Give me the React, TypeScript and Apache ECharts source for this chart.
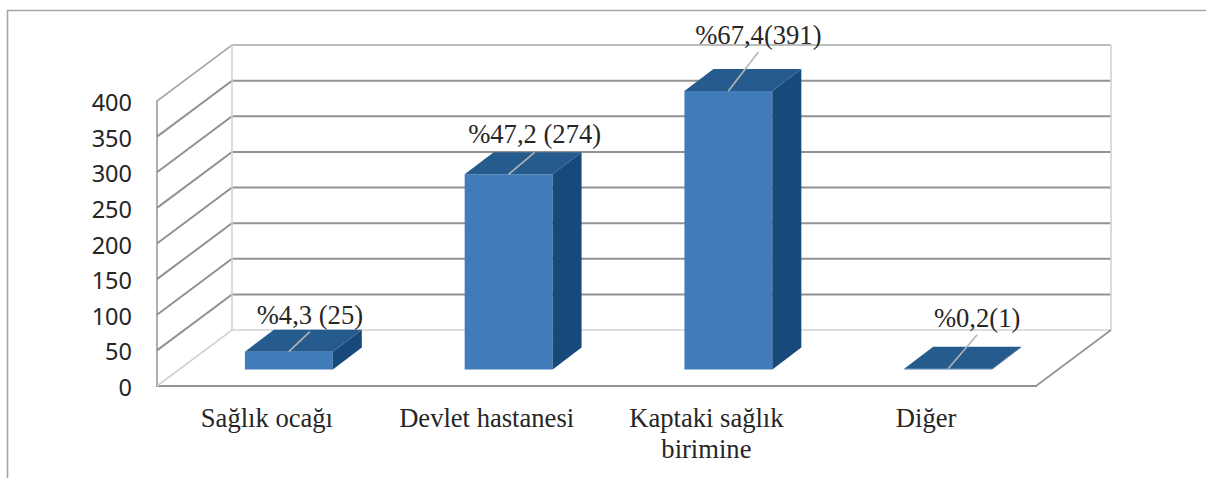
import React, { useEffect, useRef } from "react";
import * as echarts from "echarts";

const categories = ["Sağlık ocağı", "Devlet hastanesi", "Kaptaki sağlık\nbirimine", "Diğer"];
const counts = [25, 274, 391, 1];
const valueLabels = ["%4,3 (25)", "%47,2 (274)", "%67,4(391)", "%0,2(1)"];
const yTicks = [0, 50, 100, 150, 200, 250, 300, 350, 400];

// Leader tip relative to the bar's front top edge, and label centre relative to the tip.
const leaderTips = [[21, -20], [26, -22], [30, -39], [29, -34]];
const labelShifts = [[0, -17], [0, -18], [0, -17], [0, -17]];

// Oblique projection of the box: full depth of the walls, bar placement and bar depth.
const WALL_DX = 75;
const WALL_DY = -56;
const BAR_SHIFT_X = 22;
const BAR_SHIFT_Y = -16.5;
const BAR_DX = 29;
const BAR_DY = -22;

const SERIF = '"Liberation Serif", "Times New Roman", serif';
const GRID_COLOR = "#929292";
const PALE_COLOR = "#d2d2d2";

function renderWallLine(params: any, api: any) {
  const tick = api.value(1);
  const { x, width } = params.coordSys;
  const y = api.coord([0, tick])[1];
  const isEdge = tick === 0 || tick === 400;
  const pale = tick === 0;
  const lineStyle = {
    stroke: pale ? PALE_COLOR : isEdge ? "#a8a8a8" : GRID_COLOR,
    lineWidth: isEdge ? 1.6 : 2,
    fill: "none",
  };
  return {
    type: "polyline",
    shape: {
      points: [
        [x, y],
        [x + WALL_DX, y + WALL_DY],
        [x + width + WALL_DX, y + WALL_DY],
      ],
    },
    style: lineStyle,
    silent: true,
  };
}

function renderWallFrame(params: any, api: any) {
  const { x, y, width, height } = params.coordSys;
  const bottom = y + height;
  const right = x + width;
  const pale = { stroke: PALE_COLOR, lineWidth: 1.6, fill: "none" };
  return {
    type: "group",
    silent: true,
    children: [
      {
        type: "line",
        shape: { x1: x + WALL_DX, y1: y + WALL_DY, x2: x + WALL_DX, y2: bottom + WALL_DY },
        style: pale,
      },
      {
        type: "line",
        shape: { x1: right + WALL_DX, y1: y + WALL_DY, x2: right + WALL_DX, y2: bottom + WALL_DY },
        style: pale,
      },
      {
        type: "line",
        shape: { x1: right, y1: bottom, x2: right + WALL_DX, y2: bottom + WALL_DY },
        style: { stroke: GRID_COLOR, lineWidth: 1.6 },
      },
    ],
  };
}

function renderBar(params: any, api: any) {
  const index = api.value(0);
  const base = api.coord([index, 0]);
  const top = api.coord([index, api.value(1)]);
  const w = api.size([1, 0])[0] * 0.4;
  const x0 = base[0] + BAR_SHIFT_X - w / 2;
  const x1 = x0 + w;
  const yBase = base[1] + BAR_SHIFT_Y;
  const yTop = top[1] + BAR_SHIFT_Y;
  const tip = leaderTips[index];
  const shift = labelShifts[index];
  const anchorX = x0 + w * 0.5;
  const tipX = anchorX + tip[0];
  const tipY = yTop + tip[1];
  return {
    type: "group",
    silent: true,
    children: [
      {
        type: "polygon",
        shape: { points: [[x0, yBase], [x1, yBase], [x1, yTop], [x0, yTop]] },
        style: { fill: "#417bba" },
      },
      {
        type: "polygon",
        shape: {
          points: [
            [x1, yBase],
            [x1 + BAR_DX, yBase + BAR_DY],
            [x1 + BAR_DX, yTop + BAR_DY],
            [x1, yTop],
          ],
        },
        style: { fill: "#174a7a" },
      },
      {
        type: "polygon",
        shape: {
          points: [
            [x0, yTop],
            [x1, yTop],
            [x1 + BAR_DX, yTop + BAR_DY],
            [x0 + BAR_DX, yTop + BAR_DY],
          ],
        },
        style: { fill: "#265b8d" },
      },
      {
        type: "line",
        shape: { x1: anchorX, y1: yTop, x2: tipX, y2: tipY },
        style: { stroke: "#b4b4b4", lineWidth: 1.6 },
      },
      {
        type: "text",
        style: {
          text: valueLabels[index],
          x: tipX + shift[0],
          y: tipY + shift[1],
          textAlign: "center",
          textVerticalAlign: "middle",
          font: `26.6px ${SERIF}`,
          fill: "#262626",
        },
      },
    ],
  };
}

export default function App() {
  const ref = useRef<HTMLDivElement>(null);

  useEffect(() => {
    const chart = echarts.init(ref.current!, undefined, { renderer: "svg" });
    chart.setOption({
      animation: false,
      backgroundColor: "#ffffff",
      grid: { left: 157, top: 101, width: 879, height: 285, containLabel: false },
      xAxis: {
        type: "category",
        data: categories,
        axisLine: { lineStyle: { color: GRID_COLOR, width: 2 } },
        axisTick: { show: false },
        axisLabel: {
          interval: 0,
          margin: 16,
          fontFamily: SERIF,
          fontSize: 26.6,
          lineHeight: 31,
          color: "#262626",
        },
      },
      yAxis: {
        type: "value",
        min: 0,
        max: 400,
        interval: 50,
        axisLine: { show: true, lineStyle: { color: "#9a9a9a", width: 1.6 } },
        axisTick: { show: false },
        splitLine: { show: false },
        axisLabel: {
          margin: 25,
          fontFamily: '"Noto Sans", sans-serif',
          fontSize: 23.5,
          color: "#262626",
          verticalAlign: "top",
          padding: [-11, 0, 0, 0],
        },
      },
      graphic: [
        {
          type: "polyline",
          silent: true,
          shape: { points: [[7.5, 478], [7.5, 10.5], [1206, 10.5]] },
          style: { stroke: "#a6a6a6", lineWidth: 1.6, fill: "none" },
        },
      ],
      series: [
        {
          type: "custom",
          z: 1,
          renderItem: renderWallLine,
          data: yTicks.map((t) => [0, t]),
        },
        {
          type: "custom",
          z: 1,
          renderItem: renderWallFrame,
          data: [[0, 0]],
        },
        {
          type: "custom",
          z: 3,
          renderItem: renderBar,
          data: counts.map((v, i) => [i, v]),
        },
      ],
    });
    return () => chart.dispose();
  }, []);

  return (
    <div
      ref={ref}
      style={{ position: "fixed", left: 0, top: 0, width: 1206, height: 478 }}
    />
  );
}
